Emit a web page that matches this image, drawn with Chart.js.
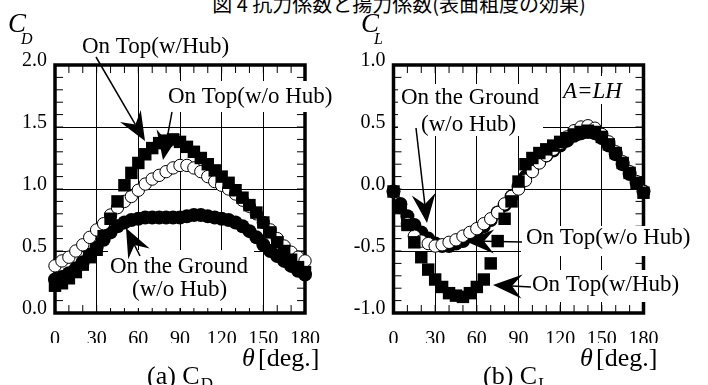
<!DOCTYPE html>
<html lang="ja">
<head>
<meta charset="UTF-8">
<title>抗力係数と揚力係数</title>
<script src="https://cdn.jsdelivr.net/npm/chart.js"></script>
<style>
  body { margin: 0; background: #fff; }
  #wrap { position: relative; width: 708px; height: 385px; overflow: hidden; background: #fff; }
  #title { position: absolute; left: 45px; top: -6px; width: 708px; text-align: center;
           font-family: "Noto Sans CJK JP"; font-size: 20px; line-height: 20px; white-space: nowrap; }
  canvas { position: absolute; top: 0; }
</style>
</head>
<body>
<div id="wrap">
  <div id="title">図 4 抗力係数と揚力係数(表面粗度の効果)</div>
  <canvas id="chartD" width="354" height="385" style="left:0px"></canvas>
  <canvas id="chartL" width="354" height="385" style="left:354px"></canvas>
</div>
<script>
// angle [deg.]
const theta = [0, 5, 10, 15, 20, 25, 30, 35, 40, 45, 50, 55, 60, 65, 70, 75, 80, 85, 90,
               95, 100, 105, 110, 115, 120, 125, 130, 135, 140, 145, 150, 155, 160, 165, 170, 175, 180];
const xTicks = [0, 10, 20, 30, 40, 50, 60, 70, 80, 90, 100, 110, 120, 130, 140, 150, 160, 170, 180];

// (a) C_D
const cdTopHub   = [0.22, 0.24, 0.28, 0.33, 0.39, 0.45, 0.51, 0.62, 0.76, 0.90, 1.03, 1.13, 1.21, 1.28, 1.33, 1.37, 1.39, 1.40, 1.38,
                    1.34, 1.30, 1.25, 1.20, 1.15, 1.10, 1.05, 0.99, 0.93, 0.87, 0.81, 0.73, 0.65, 0.57, 0.50, 0.43, 0.37, 0.33];
const cdTopNoHub = [0.38, 0.42, 0.45, 0.50, 0.55, 0.61, 0.67, 0.72, 0.79, 0.85, 0.90, 0.94, 0.99, 1.04, 1.08, 1.11, 1.14, 1.17, 1.19,
                    1.19, 1.17, 1.14, 1.10, 1.06, 1.03, 1.00, 0.96, 0.91, 0.86, 0.80, 0.73, 0.67, 0.60, 0.54, 0.49, 0.45, 0.42];
const cdGround   = [0.27, 0.29, 0.32, 0.36, 0.41, 0.47, 0.53, 0.59, 0.65, 0.70, 0.73, 0.75, 0.76, 0.77, 0.77, 0.77, 0.77, 0.77, 0.77,
                    0.78, 0.79, 0.79, 0.78, 0.77, 0.76, 0.75, 0.73, 0.70, 0.66, 0.61, 0.55, 0.50, 0.46, 0.42, 0.38, 0.34, 0.31];

// (b) C_L
const clTopHub   = [-0.02, -0.15, -0.29, -0.43, -0.55, -0.65, -0.73, -0.79, -0.84, -0.86, -0.87, -0.84, -0.79, -0.73, -0.60, -0.42, -0.24, -0.10, 0.06,
                    0.20, 0.25, 0.29, 0.32, 0.35, 0.38, 0.41, 0.44, 0.46, 0.47, 0.46, 0.42, 0.36, 0.29, 0.21, 0.13, 0.05, -0.03];
const clTopNoHub = [-0.02, -0.15, -0.28, -0.38, -0.42, -0.44, -0.46, -0.45, -0.43, -0.41, -0.38, -0.35, -0.32, -0.28, -0.24, -0.19, -0.12, -0.06, 0.00,
                    0.07, 0.14, 0.21, 0.27, 0.32, 0.37, 0.42, 0.47, 0.50, 0.51, 0.49, 0.44, 0.38, 0.30, 0.22, 0.14, 0.06, -0.02];
const clGround   = [-0.02, -0.12, -0.22, -0.29, -0.35, -0.40, -0.44, -0.46, -0.46, -0.44, -0.42, -0.38, -0.34, -0.30, -0.25, -0.19, -0.13, -0.06, 0.02,
                    0.10, 0.17, 0.22, 0.27, 0.31, 0.35, 0.39, 0.43, 0.45, 0.46, 0.45, 0.41, 0.35, 0.28, 0.20, 0.12, 0.05, -0.02];

const serif = '"Liberation Serif", "Times New Roman", serif';

function pairs(xs, ys) {
  return xs.map((x, i) => ({ x: x, y: ys[i] }));
}

function drawArrow(c, x1, y1, x2, y2) {
  const ang = Math.atan2(y2 - y1, x2 - x1);
  const len = 29, half = 12, notch = 19;
  const bx = x2 - len * Math.cos(ang), by = y2 - len * Math.sin(ang);
  const nx = x2 - notch * Math.cos(ang), ny = y2 - notch * Math.sin(ang);
  c.beginPath();
  c.moveTo(x1, y1);
  c.lineTo(nx, ny);
  c.lineWidth = 1.5;
  c.stroke();
  c.beginPath();
  c.moveTo(x2, y2);
  c.lineTo(bx + half * Math.sin(ang), by - half * Math.cos(ang));
  c.lineTo(nx, ny);
  c.lineTo(bx - half * Math.sin(ang), by + half * Math.cos(ang));
  c.closePath();
  c.fill();
}

function panelPlugin(p) {
  return {
    id: 'panel',
    beforeDatasetsDraw(chart) {
      const c = chart.ctx, a = chart.chartArea;
      const xs = chart.scales.x, ys = chart.scales.y;
      c.save();
      c.strokeStyle = '#000';
      c.lineWidth = 1;
      c.beginPath();
      xTicks.forEach(t => {
        const px = xs.getPixelForValue(t);
        c.moveTo(px, a.top); c.lineTo(px, a.top + 8);
        c.moveTo(px, a.bottom); c.lineTo(px, a.bottom - 8);
      });
      for (let i = 0; i <= Math.round((p.ymax - p.ymin) * 10); i++) {
        const py = ys.getPixelForValue(p.ymin + i / 10);
        c.moveTo(a.left, py); c.lineTo(a.left + 8, py);
        c.moveTo(a.right, py); c.lineTo(a.right - 8, py);
      }
      c.stroke();
      c.lineWidth = 3.5;
      c.strokeRect(a.left, a.top, a.width, a.height);
      // label backgrounds hide grid and frame
      c.fillStyle = '#fff';
      p.boxes.forEach(b => c.fillRect(b[0] - p.off, b[1], b[2], b[3]));
      c.restore();
    },
    afterDatasetsDraw(chart) {
      const c = chart.ctx;
      c.save();
      c.fillStyle = '#000';
      c.strokeStyle = '#000';
      c.textBaseline = 'alphabetic';
      c.textAlign = 'left';
      p.texts.forEach(t => {
        c.font = (t.italic ? 'italic ' : '') + '23px ' + serif;
        c.fillText(t.t, t.x - p.off, t.y);
      });
      p.arrows.forEach(r => drawArrow(c, r[0] - p.off, r[1], r[2] - p.off, r[3]));
      c.restore();
    },
    afterDraw(chart) {
      const c = chart.ctx;
      c.save();
      c.fillStyle = '#000';
      c.textBaseline = 'alphabetic';
      c.textAlign = 'left';
      // y axis title
      c.font = 'italic 27px ' + serif;
      c.fillText('C', p.cx - p.off, 32);
      c.font = 'italic 16px ' + serif;
      c.fillText(p.sub, p.cx + 13 - p.off, 44);
      // x axis title
      c.font = 'italic 26px ' + serif;
      c.fillText('\u03b8', p.tx - p.off, 366);
      c.font = '26px ' + serif;
      c.fillText('[deg.]', p.tx + 16 - p.off, 366);
      // panel caption
      c.fillText(p.caption, p.capx - p.off, 384);
      const w = c.measureText(p.caption).width;
      c.font = '17px ' + serif;
      c.fillText(p.sub, p.capx + w + 1 - p.off, 389);
      c.restore();
    }
  };
}

function makeChart(id, p) {
  const ctx = document.getElementById(id);
  const inside = v => v > p.ymin + 1e-6 && v < p.ymax - 1e-6;
  return new Chart(ctx, {
    type: 'scatter',
    data: {
      datasets: [
        { label: 'On Top(w/Hub)', data: pairs(theta, p.hub), pointStyle: 'rect', pointRadius: 8.8,
          backgroundColor: '#000', borderWidth: 0, clip: false },
        { label: 'On Top(w/o Hub)', data: pairs(theta, p.noHub), pointStyle: 'circle', pointRadius: 6.2,
          backgroundColor: '#fff', borderColor: '#000', borderWidth: 1, clip: false },
        { label: 'On the Ground(w/o Hub)', data: pairs(theta, p.ground), pointStyle: 'circle', pointRadius: 7,
          backgroundColor: '#000', borderWidth: 0, clip: false }
      ]
    },
    options: {
      responsive: false,
      animation: false,
      events: [],
      layout: { padding: { left: 0, right: p.padRight, top: 65, bottom: 42 } },
      plugins: { legend: { display: false }, tooltip: { enabled: false } },
      scales: {
        x: {
          type: 'linear', min: 0, max: 180,
          afterFit: s => { s.height = 30; },
          ticks: { stepSize: 30, color: '#000', font: { family: serif, size: 20 }, padding: 15, maxRotation: 0 },
          grid: { drawTicks: false, lineWidth: 1,
                  color: g => (g.tick.value > 0 && g.tick.value < 180) ? '#000' : 'rgba(0,0,0,0)' },
          border: { display: false }
        },
        y: {
          min: p.ymin, max: p.ymax,
          afterFit: s => { s.width = p.yWidth; },
          ticks: { stepSize: 0.5, color: '#000', font: { family: serif, size: 20 }, padding: 8, labelOffset: -4,
                   callback: v => v.toFixed(1) },
          grid: { drawTicks: false, lineWidth: 1,
                  color: g => inside(g.tick.value) ? '#000' : 'rgba(0,0,0,0)' },
          border: { display: false }
        }
      }
    },
    plugins: [panelPlugin(p)]
  });
}

makeChart('chartD', {
  off: 0, ymin: 0, ymax: 2, yWidth: 55, padRight: 49,
  hub: cdTopHub, noHub: cdTopNoHub, ground: cdGround,
  sub: 'D', cx: 8, tx: 242, caption: '(a) C', capx: 147,
  boxes: [[166, 81, 172, 31], [108, 250, 146, 58]],
  texts: [
    { t: 'On Top(w/Hub)', x: 82, y: 53 },
    { t: 'On Top(w/o Hub)', x: 168, y: 103 },
    { t: 'On the Ground', x: 110, y: 273 },
    { t: '(w/o Hub)', x: 132, y: 296 }
  ],
  arrows: [[96, 57, 145, 141], [172, 112, 163, 160], [140, 256, 126, 228]]
});

makeChart('chartL', {
  off: 354, ymin: -1, ymax: 1, yWidth: 39.5, padRight: 64.5,
  hub: clTopHub, noHub: clTopNoHub, ground: clGround,
  sub: 'L', cx: 361, tx: 580, caption: '(b) C', capx: 483,
  boxes: [[398, 84, 145, 52], [561, 76, 64, 28], [521, 226, 174, 30], [527, 270, 164, 32]],
  texts: [
    { t: 'On the Ground', x: 401, y: 104 },
    { t: '(w/o Hub)', x: 421, y: 131 },
    { t: 'A=LH', x: 563, y: 98, italic: true },
    { t: 'On Top(w/o Hub)', x: 526, y: 244 },
    { t: 'On Top(w/Hub)', x: 532, y: 291 }
  ],
  arrows: [[416, 128, 427, 223], [522, 242, 465, 241], [531, 287, 493, 285]]
});
</script>
</body>
</html>
